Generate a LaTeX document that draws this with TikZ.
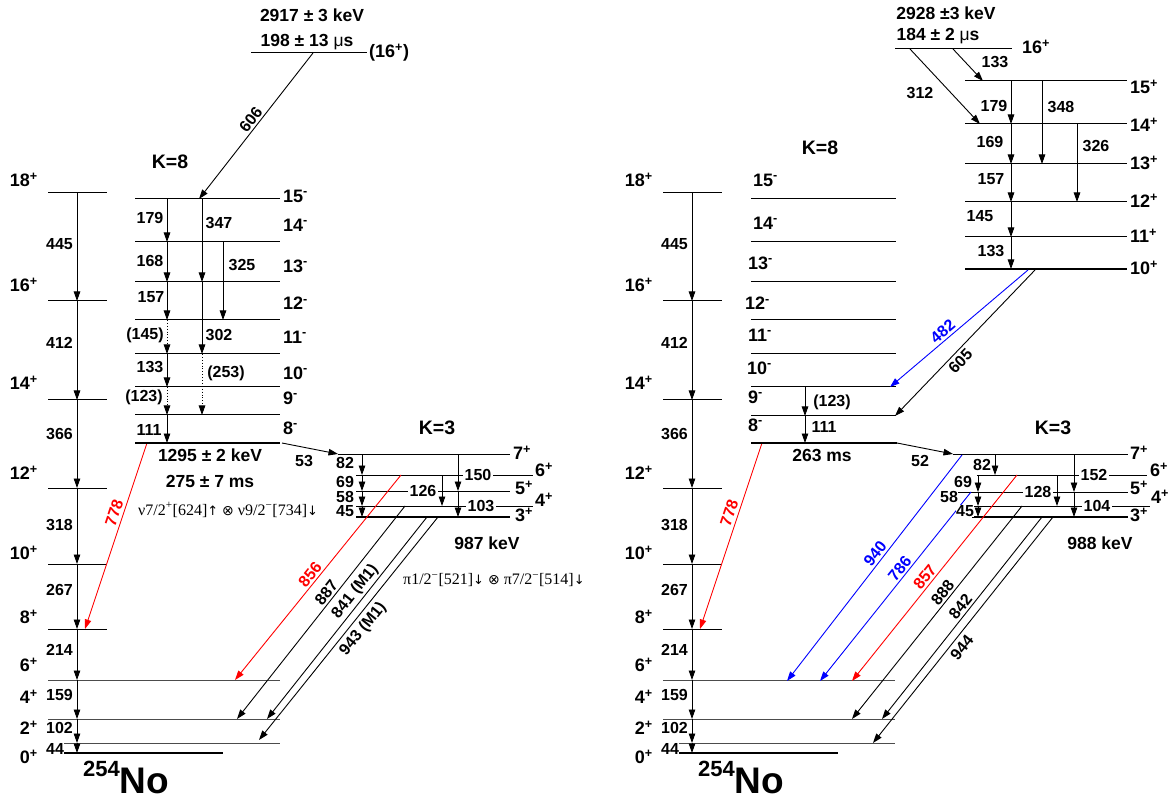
\documentclass[tikz,border=0pt]{standalone}
\usepackage{fontspec}
\setmainfont{Liberation Sans}
\newfontfamily\serifB{Liberation Serif}
\newfontfamily\symf{DejaVu Sans}
\usetikzlibrary{arrows.meta}
\newcommand{\spn}[1]{\textsuperscript{#1}}
\newcommand{\up}{{\symf\fontsize{13}{15}\selectfont ↑}}
\newcommand{\dn}{{\symf\fontsize{13}{15}\selectfont ↓}}
\newcommand{\otm}{{\symf\fontsize{14}{15}\selectfont ⊗}}
\newcommand{\gband}{%
  \draw[lvl] (48,193) -- (107,193);
  \draw[lvl] (48,301) -- (107,301);
  \draw[lvl] (48,400) -- (107,400);
  \draw[lvl] (48,488) -- (107,488);
  \draw[lvl] (48,564) -- (107,564);
  \draw[lvl] (48,629) -- (107,629);
  \draw[lvlg] (48,680) -- (280,680);
  \draw[lvlg] (48,719) -- (280,719);
  \draw[lvlg] (64,743) -- (280,743);
  \draw[bh] (64,753) -- (223,753);
  \draw[tr] (77,193) -- (77,301);
  \draw[tr] (77,301) -- (77,400);
  \draw[tr] (77,400) -- (77,488);
  \draw[tr] (77,488) -- (77,564);
  \draw[tr] (77,564) -- (77,629);
  \draw[tr] (77,629) -- (77,680);
  \draw[tr] (77,680) -- (77,719);
  \draw[tr] (77,719) -- (77,743);
  \draw[tr] (77,743) -- (77,753);
  \node[labL] (t445) at (46,244) {445};
  \node[labL] (t412) at (46,343) {412};
  \node[labL] (t366) at (46,434) {366};
  \node[labL] (t318) at (46,525) {318};
  \node[labL] (t267) at (46,590) {267};
  \node[labL] (t214) at (46,650) {214};
  \node[labL] (t159) at (46,695) {159};
  \node[labL] (t102) at (46,728) {102};
  \node[labL] (t44) at (46,749) {44};
  \node[spinE] (s18) at (38,180) {18\spn{+}};
  \node[spinE] (s16) at (38,285) {16\spn{+}};
  \node[spinE] (s14) at (38,383) {14\spn{+}};
  \node[spinE] (s12) at (38,473) {12\spn{+}};
  \node[spinE] (s10) at (38,553) {10\spn{+}};
  \node[spinE] (s8) at (38,617) {8\spn{+}};
  \node[spinE] (s6) at (38,665) {6\spn{+}};
  \node[spinE] (s4) at (38,697) {4\spn{+}};
  \node[spinE] (s2) at (38,728) {2\spn{+}};
  \node[spinE] (s0) at (38,757) {0\spn{+}};
  \draw[tr, red] (147,443) -- (85,629) node[pos=0.39, sloped, above, lab, text=red, inner sep=3pt] (t778) {778};
  \node[anchor=base west, inner sep=0pt] (nuc) at (83,793)
    {\raisebox{17pt}{\fontsize{22}{22}\selectfont\bfseries 254}\fontsize{37}{37}\selectfont\bfseries No};
}
\begin{document}
\begin{tikzpicture}[x=1pt,y=-1pt,
  lvl/.style={draw=black, line width=1pt},
  lvlg/.style={draw=black!70, line width=1pt},
  bh/.style={draw=black, line width=2.5pt},
  tr/.style={draw, line width=0.9pt, -{Triangle[length=9.5pt,width=6.5pt]}},
  trd/.style={tr, dotted},
  lab/.style={font=\fontsize{16}{18}\selectfont\bfseries, inner sep=1pt},
  labL/.style={lab, anchor=west, inner sep=0pt},
  labw/.style={lab, fill=white, inner sep=1.5pt},
  spin/.style={font=\fontsize{18}{20}\selectfont\bfseries, inner sep=0pt},
  spinE/.style={spin, anchor=east},
  spinW/.style={spin, anchor=west},
  big/.style={font=\fontsize{17.5}{19}\selectfont\bfseries, inner sep=0pt},
  kl/.style={font=\fontsize{19.5}{21}\selectfont\bfseries, inner sep=0pt},
  orb/.style={font=\fontsize{16}{18}\selectfont\serifB, inner sep=0pt, anchor=west},
]
\useasboundingbox[fill=white] (0,0) rectangle (1170,799);

% ================= LEFT PANEL =================
\begin{scope}[name prefix=L-]
\gband
\end{scope}

% isomer (16+)
\draw[lvl] (251,53) -- (367,53);
\node[big] (LisoE) at (312,15) {2917 ± 3 keV};
\node[big] (LisoT) at (307,42) {198 ± 13 {\mdseries μ}s};
\node[spinW] (Liso) at (369,53) {(16\spn{+})};
\draw[tr] (313,53) -- (199,199) node[pos=0.49, sloped, above, lab, inner sep=2pt] (L606) {606};

% K=8 band
\node[kl] (LK8) at (170,162) {K=8};
\foreach \y in {199,242,282,320,354,387,415} \draw[lvl] (135,\y) -- (280,\y);
\draw[bh] (135,443) -- (280,443);
\node[spinW] (La15) at (283,196) {15\spn{-}};
\node[spinW] (La14) at (283,225) {14\spn{-}};
\node[spinW] (La13) at (283,266) {13\spn{-}};
\node[spinW] (La12) at (283,303) {12\spn{-}};
\node[spinW] (La11) at (283,337) {11\spn{-}};
\node[spinW] (La10) at (283,373) {10\spn{-}};
\node[spinW] (La9) at (283,398) {9\spn{-}};
\node[spinW] (La8) at (283,428) {8\spn{-}};
\draw[tr] (167,199) -- (167,242);
\draw[tr] (167,242) -- (167,282);
\draw[tr] (167,282) -- (167,320);
\draw[trd] (167,320) -- (167,354);
\draw[tr] (167,354) -- (167,387);
\draw[trd] (167,387) -- (167,415);
\draw[tr] (167,415) -- (167,443);
\draw[tr] (202,199) -- (202,282);
\draw[tr] (202,282) -- (202,354);
\draw[trd] (202,354) -- (202,415);
\draw[tr] (223,242) -- (223,320);
\node[lab] (L179) at (150,218) {179};
\node[lab] (L168) at (150,261) {168};
\node[lab] (L157) at (151,297) {157};
\node[lab] (L145) at (145,335) {(145)};
\node[lab] (L133) at (150,367) {133};
\node[lab] (L123) at (144,397) {(123)};
\node[lab] (L111) at (149,430) {111};
\node[lab] (L347) at (219,223) {347};
\node[lab] (L325) at (242,265) {325};
\node[lab] (L302) at (219,335) {302};
\node[lab] (L253) at (226,373) {(253)};
\node[big] (LbhE) at (210,455) {1295 ± 2 keV};
\node[big] (LbhT) at (210,481) {275 ± 7 ms};
\node[orb] (Lorb) at (138,510) {ν7/2\textsuperscript{+}[624]\up\ \otm\ ν9/2\textsuperscript{−}[734]\dn};

% K=3 band
\node[kl] (LK3) at (437,428) {K=3};
\draw[lvl] (338,454) -- (510,454);
\draw[lvl] (356,475) -- (533,475);
\draw[lvl] (356,491) -- (510,491);
\draw[lvl] (356,506) -- (533,506);
\draw[bh] (356,517) -- (510,517);
\node[spinW] (Lb7) at (513,453) {7\spn{+}};
\node[spinW] (Lb6) at (535,470) {6\spn{+}};
\node[spinW] (Lb5) at (515,488) {5\spn{+}};
\node[spinW] (Lb4) at (535,500) {4\spn{+}};
\node[spinW] (Lb3) at (515,515) {3\spn{+}};
\draw[tr] (282,443) -- (338,454);
\node[lab] (L53) at (304,461) {53};
\draw[tr] (362,454) -- (362,475);
\draw[tr] (362,475) -- (362,491);
\draw[tr] (362,491) -- (362,506);
\draw[tr] (362,506) -- (362,517);
\draw[tr] (442,475) -- (442,506);
\draw[tr] (458,454) -- (458,491);
\draw[tr] (458,491) -- (458,517);
\node[lab] (L82) at (345,463) {82};
\node[lab] (L69) at (345,482) {69};
\node[lab] (L58) at (345,497) {58};
\node[lab] (L45) at (345,511) {45};
\node[labw] (L150) at (478,475) {150};
\node[labw] (L126) at (423,491) {126};
\node[labw] (L103) at (481,506) {103};
\node[big] (LbE) at (487,543) {987 keV};
\node[orb] (Lorb3) at (403,580) {π1/2\textsuperscript{−}[521]\dn\ \otm\ π7/2\textsuperscript{−}[514]\dn};

% diagonals
\draw[tr, red] (401,475) -- (235,680) node[pos=0.51, sloped, above, lab, text=red, inner sep=2pt] (L856) {856};
\draw[tr] (405,506) -- (237,719) node[pos=0.43, sloped, above, lab, inner sep=2pt] (L887) {887};
\draw[tr] (427,517) -- (267,719) node[pos=0.40, sloped, above, lab, inner sep=2pt] (L841) {841 (M1)};
\draw[tr] (438,517) -- (259,740) node[pos=0.47, sloped, below, lab, inner sep=4pt] (L943) {943 (M1)};

% ================= RIGHT PANEL =================
\begin{scope}[xshift=615pt, name prefix=R-]
\gband
\end{scope}

% upper band
\node[big] (RisoE) at (946,13) {2928 ±3 keV};
\node[big] (RisoT) at (938,36) {184 ± 2 {\mdseries μ}s};
\draw[lvl] (895,49) -- (1012,49);
\node[spinW] (Rc16) at (1022,47) {16\spn{+}};
\foreach \y in {81,124,164,202,237} \draw[lvl] (965,\y) -- (1127,\y);
\draw[bh] (965,269) -- (1127,269);
\node[spinW] (Rc15) at (1130,87) {15\spn{+}};
\node[spinW] (Rc14) at (1130,125) {14\spn{+}};
\node[spinW] (Rc13) at (1130,163) {13\spn{+}};
\node[spinW] (Rc12) at (1130,201) {12\spn{+}};
\node[spinW] (Rc11) at (1130,236) {11\spn{+}};
\node[spinW] (Rc10) at (1130,268) {10\spn{+}};
\draw[tr] (953,49) -- (983,81);
\draw[tr] (910,49) -- (980,124);
\draw[tr] (1011,81) -- (1011,124);
\draw[tr] (1011,124) -- (1011,164);
\draw[tr] (1011,164) -- (1011,202);
\draw[tr] (1011,202) -- (1011,237);
\draw[tr] (1011,237) -- (1011,269);
\draw[tr] (1042,81) -- (1042,164);
\draw[tr] (1077,124) -- (1077,202);
\node[lab] (R133a) at (995,62) {133};
\node[lab] (R312) at (920,93) {312};
\node[lab] (R179) at (994,106) {179};
\node[lab] (R169) at (990,142) {169};
\node[lab] (R157) at (991,179) {157};
\node[lab] (R145) at (980,216) {145};
\node[lab] (R133) at (991,251) {133};
\node[lab] (R348) at (1061,107) {348};
\node[lab] (R326) at (1096,146) {326};

% K=8 band
\node[kl] (RK8) at (820,148) {K=8};
\foreach \y in {199,242,282,320,354,387,416} \draw[lvl] (751,\y) -- (896,\y);
\draw[bh] (751,443) -- (897,443);
\node[spinW] (Ra15) at (753,180) {15\spn{-}};
\node[spinW] (Ra14) at (753,223) {14\spn{-}};
\node[spinW] (Ra13) at (748,263) {13\spn{-}};
\node[spinW] (Ra12) at (745,303) {12\spn{-}};
\node[spinW] (Ra11) at (748,335) {11\spn{-}};
\node[spinW] (Ra10) at (747,368) {10\spn{-}};
\node[spinW] (Ra9) at (748,397) {9\spn{-}};
\node[spinW] (Ra8) at (748,425) {8\spn{-}};
\draw[tr] (805,387) -- (805,416);
\draw[tr] (805,416) -- (805,443);
\node[lab] (R123) at (832,402) {(123)};
\node[lab] (R111) at (824,427) {111};
\node[big] (RbhT) at (822,455) {263 ms};
\draw[tr, blue] (1028,270) -- (890,387) node[pos=0.58, sloped, above, lab, text=blue, inner sep=2pt] (R482) {482};
\draw[tr] (1035,270) -- (895,416) node[pos=0.58, sloped, below, lab, inner sep=3pt] (R605) {605};

% K=3 band
\node[kl] (RK3) at (1053,428) {K=3};
\draw[lvl] (953,454) -- (1128,454);
\draw[lvl] (977,475) -- (1147,475);
\draw[lvl] (958,492) -- (1128,492);
\draw[lvl] (970,506) -- (1150,506);
\draw[bh] (972,517) -- (1128,517);
\node[spinW] (Rb7) at (1130,453) {7\spn{+}};
\node[spinW] (Rb6) at (1150,470) {6\spn{+}};
\node[spinW] (Rb5) at (1130,488) {5\spn{+}};
\node[spinW] (Rb4) at (1151,497) {4\spn{+}};
\node[spinW] (Rb3) at (1130,515) {3\spn{+}};
\draw[tr] (897,443) -- (953,454);
\node[lab] (R52) at (920,461) {52};

% diagonals
\draw[tr, blue] (962,455) -- (787,681) node[pos=0.46, sloped, above, lab, text=blue, inner sep=2pt] (R940) {940};
\draw[tr, blue] (971,492) -- (820,681) node[pos=0.43, sloped, above, lab, text=blue, inner sep=2pt] (R786) {786};
\draw[tr, red] (1017,475) -- (852,681) node[pos=0.52, sloped, above, lab, text=red, inner sep=2pt] (R857) {857};
\draw[tr] (1022,506) -- (852,719) node[pos=0.43, sloped, above, lab, inner sep=2pt] (R888) {888};
\draw[tr] (1042,517) -- (882,719) node[pos=0.47, sloped, above, lab, inner sep=2pt] (R842) {842};
\draw[tr] (1053,517) -- (873,743) node[pos=0.55, sloped, below, lab, inner sep=4pt] (R944) {944};

\draw[tr] (995,454) -- (995,475);
\draw[tr] (978,475) -- (978,492);
\draw[tr] (978,492) -- (978,506);
\draw[tr] (978,506) -- (978,517);
\draw[tr] (1057,475) -- (1057,506);
\draw[tr] (1074,454) -- (1074,492);
\draw[tr] (1074,492) -- (1074,517);
\node[lab] (R82) at (982,465) {82};
\node[lab] (R69) at (963,482) {69};
\node[labw, inner sep=0.5pt] (R58) at (949,497) {58};
\node[labw, inner sep=0.5pt] (R45) at (965,511) {45};
\node[labw] (R152) at (1094,475) {152};
\node[labw] (R128) at (1038,492) {128};
\node[labw] (R104) at (1097,506) {104};
\node[big] (RbE) at (1100,543) {988 keV};
\end{tikzpicture}
\end{document}
